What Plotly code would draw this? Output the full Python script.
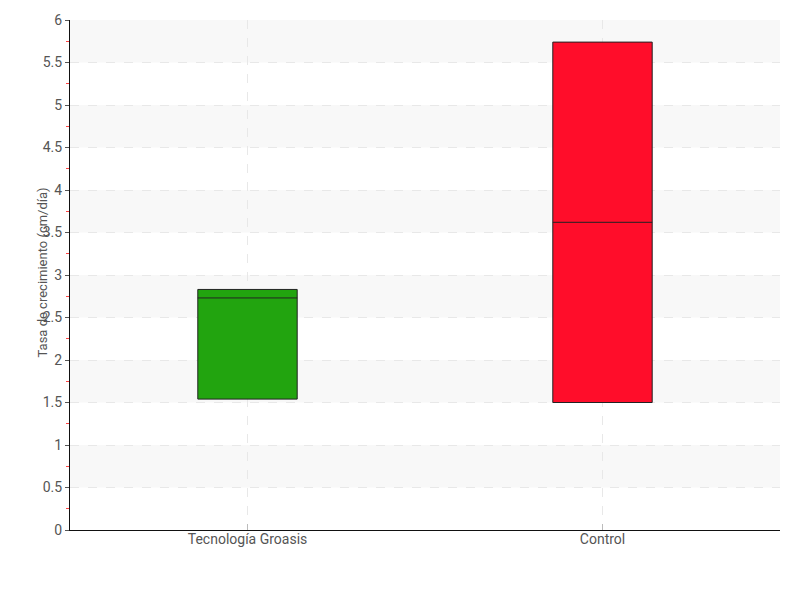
import plotly.graph_objects as go

categories = ["Tecnología Groasis", "Control"]
q1 = [1.54, 1.50]
median = [2.73, 3.62]
q3 = [2.83, 5.74]
colors = ["#22a40f", "#ff0d2a"]
band_starts = [0.5, 1.5, 2.5, 3.5, 4.5, 5.5]
y_title = "Tasa de crecimiento (cm/día)"

fig = go.Figure()
for i, c in enumerate(categories):
    fig.add_trace(go.Box(
        x=[c], q1=[q1[i]], median=[median[i]], q3=[q3[i]],
        lowerfence=[q1[i]], upperfence=[q3[i]],
        fillcolor=colors[i], line=dict(color="#222222", width=1),
        width=0.28, whiskerwidth=0, showlegend=False, boxpoints=False,
        hoverinfo="y"))

for b in band_starts:
    fig.add_shape(type="rect", xref="paper", yref="y", x0=0, x1=1, y0=b, y1=b + 0.5,
                  fillcolor="#f8f8f8", line=dict(width=0), layer="below")

fig.add_annotation(text=y_title, xref="paper", yref="paper", x=-0.0394, y=0.505,
                   xanchor="center", yanchor="middle", textangle=-90, showarrow=False,
                   font=dict(size=13, color="#555555"))

font = "Roboto, sans-serif"
fig.update_layout(
    width=800, height=600,
    margin=dict(l=62, r=28, t=12, b=78),
    plot_bgcolor="white", paper_bgcolor="white",
    font=dict(family=font, size=14, color="#555555"),
    xaxis=dict(
        automargin=False,
        showline=True, linecolor="#111111", linewidth=1,
        showgrid=True, gridcolor="#e8e8e8", griddash="dash",
        ticks="inside", ticklen=6, tickcolor="#bbbbbb",
        tickfont=dict(size=14, color="#555555"),
        ticklabelstandoff=-4,
        range=[-0.5, 1.5],
    ),
    yaxis=dict(
        automargin=False,
        range=[0, 6], dtick=0.5, tick0=0,
        showline=True, linecolor="#111111", linewidth=1,
        showgrid=True, gridcolor="#e8e8e8", griddash="dash",
        zeroline=False,
        ticks="outside", ticklen=4, tickcolor="#555555",
        tickfont=dict(size=14, color="#555555"),
        minor=dict(dtick=0.25, ticks="outside", ticklen=3, tickcolor="#ff4444", showgrid=False),
    ),
)

fig.write_html("out.html")
